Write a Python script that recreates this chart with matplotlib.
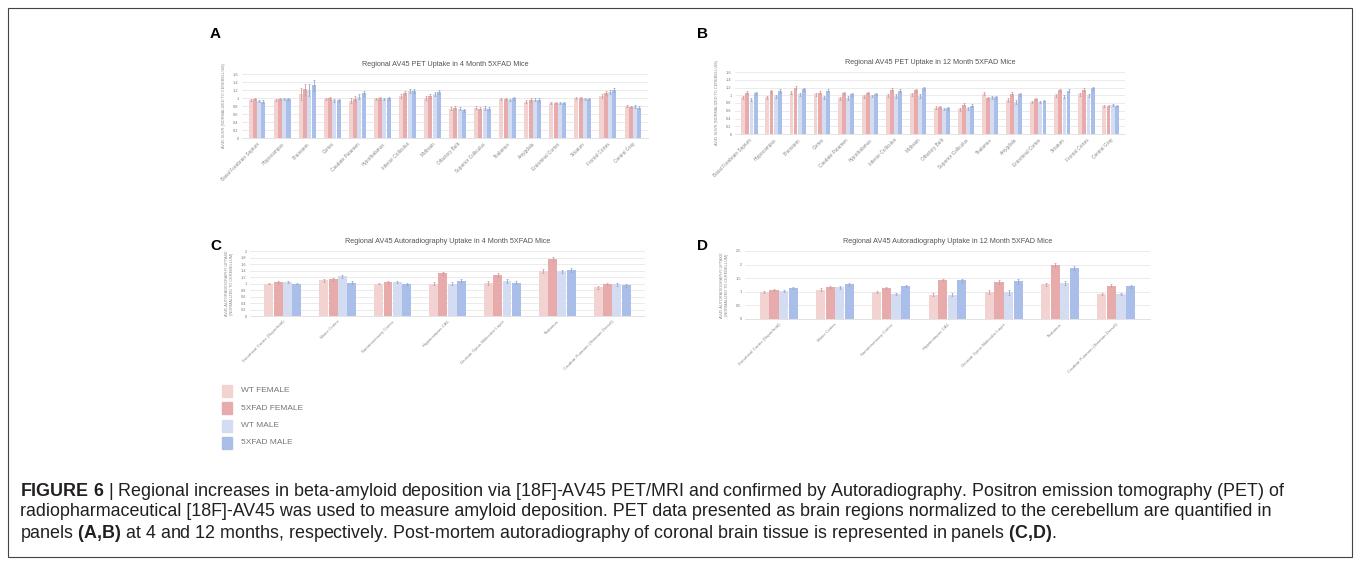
import matplotlib.pyplot as plt
from matplotlib.patches import Rectangle
import numpy as np

plt.rcParams['font.family'] = ['Liberation Sans', 'DejaVu Sans']
plt.rcParams['mathtext.fontset'] = 'custom'
plt.rcParams['mathtext.rm'] = 'Liberation Sans'
plt.rcParams['mathtext.bf'] = 'Liberation Sans:bold'

groups = ["WT FEMALE", "5XFAD FEMALE", "WT MALE", "5XFAD MALE"]
colors = ["#f3d2d2", "#e8abab", "#d3dcf1", "#a9bfe9"]

# panel A - PET 4 month
regions_pet = ["Basal Forebrain Septum", "Hippocampus", "Brainstem", "Cortex",
               "Caudate Putamen", "Hypothalamus", "Inferior Colliculus",
               "Midbrain", "Olfactory Bulb", "Superior Colliculus",
               "Thalamus", "Amygdala", "Entorhinal Cortex", "Striatum",
               "Frontal Cortex", "Central Gray"]
pet4_wtf = [0.95, 0.95, 1.10, 0.98, 0.93, 0.98, 1.05, 1.00, 0.73, 0.76, 0.98, 0.91, 0.88, 1.00, 1.06, 0.80]
pet4_fadf = [0.97, 0.98, 1.22, 0.99, 0.98, 0.99, 1.12, 1.06, 0.75, 0.73, 0.98, 0.95, 0.87, 0.99, 1.13, 0.77]
pet4_wtm = [0.93, 0.97, 1.20, 0.94, 1.03, 0.97, 1.17, 1.10, 0.73, 0.75, 0.95, 0.96, 0.87, 0.97, 1.14, 0.79]
pet4_fadm = [0.91, 0.98, 1.32, 0.94, 1.12, 0.99, 1.17, 1.14, 0.69, 0.73, 0.99, 0.95, 0.87, 0.97, 1.19, 0.76]
pet4_err = [0.03, 0.03, 0.14, 0.03, 0.06, 0.03, 0.05, 0.05, 0.04, 0.04, 0.03, 0.04, 0.03, 0.03, 0.05, 0.03]

# panel B - PET 12 month
pet12_wtf = [0.95, 0.95, 1.07, 1.03, 0.92, 0.97, 1.00, 1.02, 0.68, 0.64, 1.04, 0.87, 0.82, 1.00, 1.02, 0.72]
pet12_fadf = [1.07, 1.10, 1.20, 1.07, 1.05, 1.05, 1.14, 1.13, 0.69, 0.76, 0.92, 1.03, 0.91, 1.13, 1.14, 0.73]
pet12_wtm = [0.88, 0.97, 1.02, 0.95, 0.93, 0.98, 0.98, 0.98, 0.64, 0.66, 0.95, 0.82, 0.82, 0.96, 1.00, 0.74]
pet12_fadm = [1.05, 1.11, 1.15, 1.12, 1.02, 1.04, 1.12, 1.18, 0.66, 0.73, 0.95, 1.02, 0.86, 1.12, 1.18, 0.73]
pet12_err = [0.04, 0.04, 0.05, 0.04, 0.04, 0.03, 0.04, 0.04, 0.03, 0.04, 0.04, 0.05, 0.03, 0.04, 0.04, 0.03]

# panels C, D - autoradiography
regions_ar = ["Entorhinal Cortex (Superficial)", "Motor Cortex", "Somatosensory Cortex",
              "Hippocampus CA1", "Dentate Gyrus Molecular Layer", "Thalamus",
              "Caudate Putamen (Striatum Dorsal)"]
ar4_wtf = [1.00, 1.10, 1.00, 1.00, 1.02, 1.38, 0.88]
ar4_fadf = [1.05, 1.13, 1.05, 1.31, 1.26, 1.75, 0.98]
ar4_wtm = [1.04, 1.22, 1.04, 1.00, 1.07, 1.37, 0.97]
ar4_fadm = [1.00, 1.03, 0.98, 1.09, 1.03, 1.42, 0.94]
ar4_err = [0.03, 0.04, 0.03, 0.05, 0.06, 0.06, 0.04]

ar12_wtf = [1.00, 1.08, 0.99, 0.90, 1.00, 1.27, 0.92]
ar12_fadf = [1.06, 1.17, 1.13, 1.43, 1.35, 1.98, 1.22]
ar12_wtm = [1.02, 1.16, 0.92, 0.90, 0.98, 1.33, 0.92]
ar12_fadm = [1.13, 1.28, 1.20, 1.42, 1.38, 1.87, 1.20]
ar12_err = [0.04, 0.05, 0.04, 0.05, 0.08, 0.07, 0.05]

W, H = 1360, 565
fig = plt.figure(figsize=(W / 100, H / 100), dpi=100)

# outer frame
fig.patches.append(Rectangle((8 / W, 8 / H), 1344 / W, 549 / H, transform=fig.transFigure,
                             fill=False, edgecolor="#444444", linewidth=0.8))


def px_axes(x0, y0, x1, y1):
    return fig.add_axes([x0 / W, 1 - y1 / H, (x1 - x0) / W, (y1 - y0) / H])


def draw_panel(ax, names, series, err, ymax, step, title, ylabel, bw, lblsize):
    x = np.arange(len(names))
    for i, vals in enumerate(series):
        pos = x + (i - 1.5) * bw
        ax.bar(pos, vals, width=bw * 0.95, color=colors[i], zorder=2)
        ax.errorbar(pos, vals, yerr=err, fmt="none", ecolor="#c9a0a0" if i < 2 else "#9aa8c8",
                    elinewidth=0.6, capsize=1, capthick=0.5, zorder=3)
    ax.set_ylim(0, ymax)
    ax.set_xlim(-0.6, len(names) - 0.4)
    ticks = np.arange(0, ymax + 1e-6, step)
    ax.set_yticks(ticks)
    ax.set_yticklabels([f"{t:g}" for t in ticks], fontsize=2.8, color="#777777")
    ax.set_xticks(x)
    ax.set_xticklabels(names, rotation=45, ha="right", rotation_mode="anchor",
                       fontsize=lblsize, color="#888888")
    ax.tick_params(length=0, pad=2.5)
    ax.grid(axis="y", color="#e8e8e8", linewidth=0.6, zorder=0)
    for s in ["top", "right", "left"]:
        ax.spines[s].set_visible(False)
    ax.spines["bottom"].set_color("#dddddd")
    ax.spines["bottom"].set_linewidth(0.6)
    ax.set_title(title, fontsize=5.2, color="#555555", pad=6)
    ax.set_ylabel(ylabel, fontsize=2.8, color="#888888", labelpad=5)


axA = px_axes(242, 74, 648, 138)
draw_panel(axA, regions_pet, [pet4_wtf, pet4_fadf, pet4_wtm, pet4_fadm], pet4_err, 1.6, 0.2,
           "Regional AV45 PET Uptake in 4 Month 5XFAD Mice",
           "AV45 SUVR (NORMALIZED TO CEREBELLUM)", 0.17, 3.4)

axB = px_axes(735, 72, 1125, 134)
draw_panel(axB, regions_pet, [pet12_wtf, pet12_fadf, pet12_wtm, pet12_fadm], pet12_err, 1.6, 0.2,
           "Regional AV45 PET Uptake in 12 Month 5XFAD Mice",
           "AV45 SUVR (NORMALIZED TO CEREBELLUM)", 0.17, 3.4)

axC = px_axes(250, 251, 645, 316)
draw_panel(axC, regions_ar, [ar4_wtf, ar4_fadf, ar4_wtm, ar4_fadm], ar4_err, 2.0, 0.2,
           "Regional AV45 Autoradiography Uptake in 4 Month 5XFAD Mice",
           "AV45 AUTORADIOGRAPHY UPTAKE\n(NORMALIZED TO CEREBELLUM)", 0.17, 3.2)

axD = px_axes(745, 251, 1150, 319)
draw_panel(axD, regions_ar, [ar12_wtf, ar12_fadf, ar12_wtm, ar12_fadm], ar12_err, 2.5, 0.5,
           "Regional AV45 Autoradiography Uptake in 12 Month 5XFAD Mice",
           "AV45 AUTORADIOGRAPHY UPTAKE\n(NORMALIZED TO CEREBELLUM)", 0.17, 3.2)

# panel letters
for letter, (lx, ly) in {"A": (210, 34), "B": (697, 34), "C": (210, 246), "D": (697, 246)}.items():
    fig.text(lx / W, 1 - ly / H, letter, fontsize=11, fontweight="bold", va="center", ha="left")

# legend
for i, g in enumerate(groups):
    yy = 391 + i * 17.3
    fig.patches.append(Rectangle((222 / W, 1 - (yy + 6) / H), 10 / W, 12 / H,
                                 transform=fig.transFigure, color=colors[i]))
    fig.text(241 / W, 1 - yy / H, g, fontsize=6, color="#777777", va="center", ha="left")

# caption
cap_y = [491, 512, 533]
cap_kw = dict(fontsize=12.9, va="center", ha="left", color="#231f20")
fig.text(20 / W, 1 - cap_y[0] / H, r"$\bf{FIGURE\ 6}$ | Regional increases in beta-amyloid deposition via [18F]-AV45 PET/MRI and confirmed by Autoradiography. Positron emission tomography (PET) of",
         **cap_kw)
fig.text(20 / W, 1 - cap_y[1] / H, "radiopharmaceutical [18F]-AV45 was used to measure amyloid deposition. PET data presented as brain regions normalized to the cerebellum are quantified in",
         **cap_kw)
fig.text(20 / W, 1 - cap_y[2] / H, r"panels $\bf{(A{,}B)}$ at 4 and 12 months, respectively. Post-mortem autoradiography of coronal brain tissue is represented in panels $\bf{(C{,}D)}$.",
         **cap_kw)

fig.savefig("out.png", dpi=100)
